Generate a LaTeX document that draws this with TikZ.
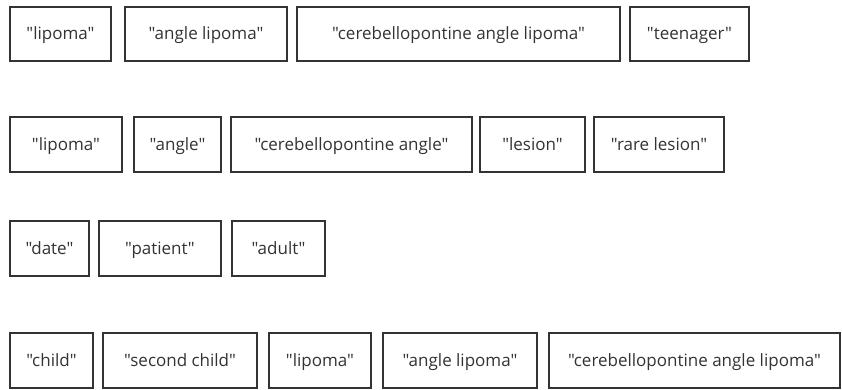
\documentclass[tikz,border=0pt]{standalone}
\usepackage{fontspec}
\setmainfont[Ligatures=NoCommon,Mapping=]{Open Sans}
\definecolor{ink}{HTML}{333333}
\tikzset{
  term/.style={draw=ink, line width=1.8pt, text=ink, inner sep=0pt,
    font=\fontsize{17}{19}\selectfont, text height=14pt, text depth=2pt,
    anchor=center}
}
\newcommand{\q}{\symbol{34}}
% term box from (x1,y1) to (x2,y2), in pixel units
\newcommand{\termbox}[6]{%
  \node[term, minimum width={(#4-#2)*1pt}, minimum height={(#5-#3)*1pt}]
    (#1) at ({(#2+#4)/2},{(#3+#5)/2}) {\q#6\q};}
\begin{document}
\begin{tikzpicture}[x=1pt,y=-1pt]
\useasboundingbox (0,0) rectangle (842,390);
% first row
\termbox{aa}{10}{7}{111}{61}{lipoma}
\termbox{ab}{125}{7}{287}{61}{angle lipoma}
\termbox{ac}{297}{7}{620}{61}{cerebellopontine angle lipoma}
\termbox{ad}{630}{7}{749}{61}{teenager}
% second row
\termbox{ba}{10}{117}{122}{172}{lipoma}
\termbox{bb}{134}{117}{221}{172}{angle}
\termbox{bc}{231}{117}{472}{172}{cerebellopontine angle}
\termbox{bd}{480}{117}{585}{172}{lesion}
\termbox{be}{594}{117}{724}{172}{rare lesion}
% third row
\termbox{ca}{10}{221}{89}{276}{date}
\termbox{cb}{99}{221}{221}{276}{patient}
\termbox{cc}{232}{221}{325}{276}{adult}
% fourth row
\termbox{da}{10}{333}{93}{388}{child}
\termbox{db}{103}{333}{257}{388}{second child}
\termbox{dc}{269}{333}{371}{388}{lipoma}
\termbox{dd}{383}{333}{537}{388}{angle lipoma}
\termbox{de}{549}{333}{840}{388}{cerebellopontine angle lipoma}
\end{tikzpicture}
\end{document}
